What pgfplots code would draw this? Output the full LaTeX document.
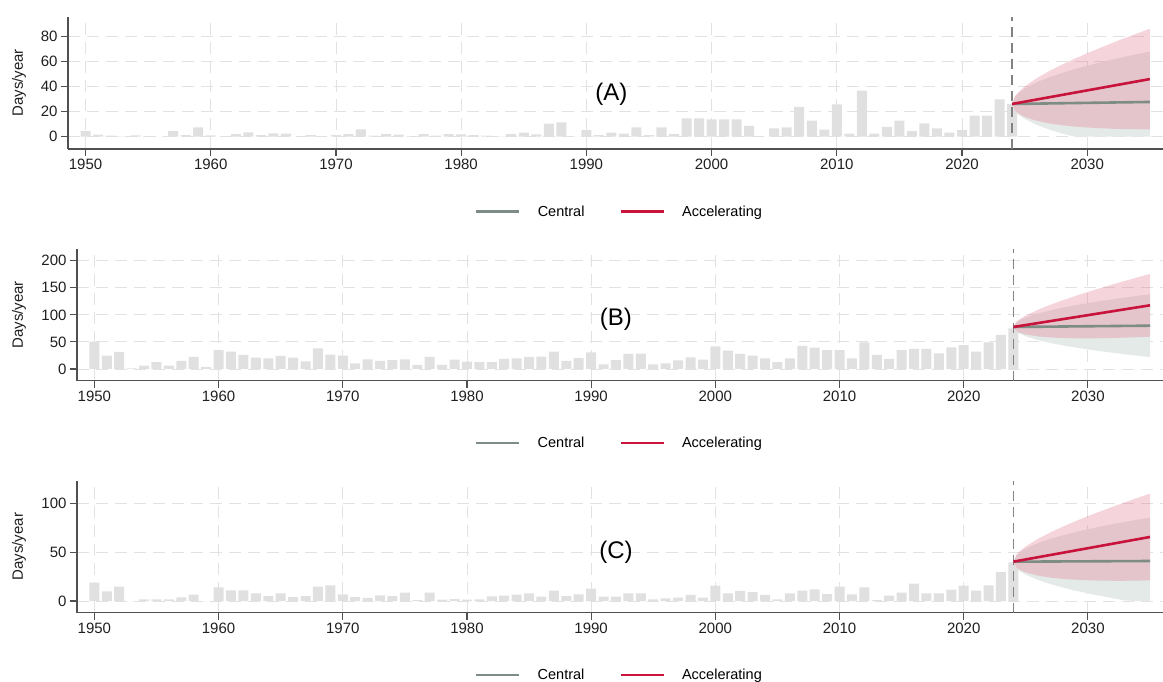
\documentclass[border=0pt]{standalone}
\usepackage{fontspec}
\setmainfont{Liberation Sans}
\usepackage{pgfplots}
\pgfplotsset{compat=1.18}
\usepackage{pgfplotstable}

\definecolor{bargray}{RGB}{224,224,224}
\definecolor{centralc}{RGB}{125,140,133}
\definecolor{accc}{RGB}{200,20,60}
\definecolor{cband}{RGB}{228,234,231}
\definecolor{aband}{RGB}{225,120,145}
\definecolor{axisgray}{RGB}{80,80,80}
\definecolor{gridc}{RGB}{226,226,226}
\definecolor{vline}{RGB}{130,130,130}

% ---------- observed bars ----------
\pgfplotstableread{
yr v
1950 4.5
1951 1.6
1952 0.8
1953 0.3
1954 1.0
1955 0.5
1956 0
1957 4.5
1958 1.3
1959 7.4
1960 1.0
1961 0
1962 2.0
1963 3.4
1964 1.3
1965 2.6
1966 2.4
1967 0
1968 1.3
1969 0
1970 1.3
1971 2.0
1972 5.8
1973 0.8
1974 2.0
1975 1.6
1976 0.5
1977 2.0
1978 0.8
1979 2.0
1980 1.9
1981 1.3
1982 0.8
1983 0.3
1984 2.0
1985 3.2
1986 1.9
1987 10.3
1988 11.4
1989 0
1990 5.3
1991 1.3
1992 3.2
1993 2.4
1994 7.4
1995 1.3
1996 7.4
1997 2.0
1998 14.6
1999 14.6
2000 13.8
2001 13.8
2002 13.8
2003 8.5
2004 0
2005 6.6
2006 7.4
2007 23.6
2008 12.7
2009 5.6
2010 25.7
2011 2.4
2012 36.6
2013 2.4
2014 7.7
2015 12.7
2016 4.5
2017 10.6
2018 6.6
2019 3.2
2020 5.3
2021 16.7
2022 16.7
2023 29.7
2024 26
}\barsA

\pgfplotstableread{
yr v
1950 50.5
1951 24.6
1952 31.4
1953 1.2
1954 6.2
1955 12.9
1956 6.2
1957 14.8
1958 22.2
1959 3.7
1960 35
1961 32
1962 25.9
1963 20.9
1964 19.7
1965 24
1966 20.9
1967 14.2
1968 38.2
1969 26.5
1970 24.6
1971 10.5
1972 17.9
1973 14.8
1974 16.6
1975 17.9
1976 7.4
1977 22.2
1978 7.4
1979 17.2
1980 13.5
1981 12.9
1982 12.9
1983 18.5
1984 19.7
1985 22.2
1986 22.8
1987 32
1988 14.8
1989 20.3
1990 30.8
1991 8.6
1992 16.6
1993 27.7
1994 28.3
1995 8.6
1996 10.5
1997 16
1998 21.5
1999 17.2
2000 41.9
2001 33.9
2002 27.7
2003 24.6
2004 19.7
2005 12.9
2006 19.7
2007 42.5
2008 39.4
2009 35
2010 35
2011 19.7
2012 49.2
2013 25.9
2014 18.5
2015 35
2016 37
2017 37
2018 28.9
2019 40
2020 44.3
2021 32
2022 49.2
2023 62.8
2024 75
}\barsB

\pgfplotstableread{
yr v
1950 18.8
1951 9.9
1952 14.7
1953 0
1954 1.7
1955 1.7
1956 1.7
1957 3.8
1958 6.5
1959 0
1960 14
1961 11
1962 11
1963 7.9
1964 5.1
1965 7.9
1966 4.1
1967 5.1
1968 14.7
1969 16.1
1970 6.9
1971 4.1
1972 3.1
1973 5.8
1974 5.1
1975 8.7
1976 1
1977 8.6
1978 1.4
1979 2
1980 1.4
1981 1.7
1982 4.8
1983 5.5
1984 6.5
1985 7.9
1986 4.5
1987 10.6
1988 5.1
1989 6.9
1990 12.7
1991 4.5
1992 4.5
1993 7.9
1994 7.9
1995 1.7
1996 2.7
1997 3.4
1998 6.2
1999 3.4
2000 15.8
2001 7.9
2002 10.3
2003 9.2
2004 6.2
2005 1.7
2006 7.9
2007 10.6
2008 12
2009 7.2
2010 14.7
2011 6.9
2012 14
2013 1
2014 5.5
2015 8.6
2016 17.8
2017 7.9
2018 7.9
2019 11.6
2020 15.8
2021 10.6
2022 16.1
2023 29.8
2024 39.7
}\barsC

\pgfplotsset{
  panel/.style={
    scale only axis,
    xmin=1948.6, xmax=2036.05,
    axis x line*=bottom, axis y line*=left,
    axis line style={axisgray, line width=1.2pt},
    xtick={1950,1960,...,2030},
    xticklabel style={/pgf/number format/1000 sep={}},
    tick style={axisgray, line width=1.1pt},
    major tick length=7pt,
    tick align=outside,
    grid=major,
    major grid style={gridc, line width=0.9pt, dash pattern=on 12pt off 7pt},
    ticklabel style={font=\fontsize{15}{18}\selectfont, text=black!88},
    /pgf/number format/assume math mode=true,
    ylabel={Days/year},
    label style={font=\fontsize{15}{18}\selectfont, text=black!88},
    legend columns=2,
    legend style={draw=none, fill=none, font=\fontsize{14.5}{17}\selectfont,
      anchor=center,
      /tikz/every even column/.append style={column sep=33pt},
      /tikz/every odd column/.append style={column sep=15pt}},
    legend image code/.code={\draw[##1, line width=2.6pt] (0pt,0pt) -- (43pt,0pt);},
  },
  barst/.style={ybar, bar width=10pt, bar shift=0pt, fill=bargray, draw=none, forget plot},
  cb/.style={fill=cband, draw=none, forget plot},
  ab/.style={fill=aband, fill opacity=0.32, draw=none, forget plot},
  cl/.style={centralc, line width=2.6pt},
  al/.style={accc, line width=2.6pt},
  dl/.style={vline, line width=1.2pt, dash pattern=on 10pt off 6pt, forget plot},
}

\begin{document}
\begin{tikzpicture}
\useasboundingbox (0,0) rectangle (1163pt,682pt);

% ---------------- Panel A ----------------
\begin{axis}[panel, at={(68pt,533pt)}, anchor=south west,
  width=1095pt, height=132.3pt,
  ymin=-9.8, ymax=95.4, ytick={0,20,...,80},
  ylabel style={at={(axis description cs:-0.04475,0.5)}, anchor=center},
  legend style={at={(axis description cs:0.5037,-0.4735)}}]
\addplot[barst] table[x=yr,y=v] {\barsA};
\addplot[cb] coordinates {(2024,26)(2024.25,32.1)(2024.5,34.6)(2025,38.2)(2026,43.4)(2027,47.3)(2028,50.7)(2029,53.7)(2030,56.4)(2031,58.9)(2032,61.3)(2033,63.5)(2034,65.6)(2035,67.6)(2035,0)(2034,0)(2033,0)(2032,0)(2031,0)(2030,0)(2029,0)(2028,2.5)(2027,5.6)(2026,9.2)(2025,14.1)(2024.5,17.5)(2024.25,20.0)};
\addplot[ab] coordinates {(2024,26)(2024.25,32.5)(2024.5,35.4)(2025,39.9)(2026,46.7)(2027,52.3)(2028,57.3)(2029,62.0)(2030,66.3)(2031,70.5)(2032,74.5)(2033,78.4)(2034,82.1)(2035,85.8)(2035,5.8)(2034,5.9)(2033,6.0)(2032,6.3)(2031,6.7)(2030,7.3)(2029,8.0)(2028,9.1)(2027,10.5)(2026,12.5)(2025,15.7)(2024.5,18.4)(2024.25,20.4)};
\addplot[dl] coordinates {(2024,-9.8) (2024,95.4)};
\addplot[cl] coordinates {(2024,26) (2035,27.6)};
\addlegendentry{Central}
\addplot[al] coordinates {(2024,26) (2035,45.8)};
\addlegendentry{Accelerating}
\node[font=\fontsize{24}{28}\selectfont] at (axis cs:1992,33.8) {(A)};
\end{axis}

% ---------------- Panel B ----------------
\begin{axis}[panel, at={(77pt,301.3pt)}, anchor=south west,
  width=1086pt, height=131.7pt,
  ymin=-21.6, ymax=221.6, ytick={0,50,...,200},
  ylabel style={at={(axis description cs:-0.0534,0.5)}, anchor=center},
  legend style={at={(axis description cs:0.4995,-0.4745)}}]
\addplot[barst] table[x=yr,y=v] {\barsB};
\addplot[cb] coordinates {(2024,77.6)(2024.25,86.4)(2024.5,90.1)(2025,95.3)(2026,102.8)(2027,108.5)(2028,113.4)(2029,117.8)(2030,121.7)(2031,125.4)(2032,128.8)(2033,132.0)(2034,135.1)(2035,138.0)(2035,22.0)(2034,24.5)(2033,27.1)(2032,29.9)(2031,32.9)(2030,36.1)(2029,39.6)(2028,43.5)(2027,48.0)(2026,53.3)(2025,60.3)(2024.5,65.3)(2024.25,68.9)};
\addplot[ab] coordinates {(2024,77.6)(2024.25,87.3)(2024.5,91.8)(2025,98.7)(2026,109.6)(2027,118.8)(2028,127.1)(2029,134.9)(2030,142.3)(2031,149.3)(2032,156.2)(2033,162.8)(2034,169.3)(2035,175.6)(2035,59.6)(2034,58.7)(2033,57.9)(2032,57.2)(2031,56.8)(2030,56.6)(2029,56.7)(2028,57.2)(2027,58.2)(2026,60.1)(2025,63.8)(2024.5,67.1)(2024.25,69.8)};
\addplot[dl] coordinates {(2024,-21.6) (2024,221.6)};
\addplot[cl] coordinates {(2024,77.6) (2035,80)};
\addlegendentry{Central}
\addplot[al] coordinates {(2024,77.6) (2035,117.6)};
\addlegendentry{Accelerating}
\node[font=\fontsize{24}{28}\selectfont] at (axis cs:1992,91.4) {(B)};
\end{axis}

% ---------------- Panel C ----------------
\begin{axis}[panel, at={(77pt,69.3pt)}, anchor=south west,
  width=1086pt, height=132pt,
  ymin=-12, ymax=123.6, ytick={0,50,100},
  ylabel style={at={(axis description cs:-0.0534,0.5)}, anchor=center},
  legend style={at={(axis description cs:0.4995,-0.4735)}}]
\addplot[barst] table[x=yr,y=v] {\barsC};
\addplot[cb] coordinates {(2024,40.4)(2024.25,47.1)(2024.5,49.9)(2025,53.9)(2026,59.6)(2027,63.9)(2028,67.5)(2029,70.8)(2030,73.7)(2031,76.4)(2032,78.9)(2033,81.3)(2034,83.6)(2035,85.7)(2035,0)(2034,0)(2033,0.6)(2032,2.9)(2031,5.3)(2030,7.8)(2029,10.6)(2028,13.8)(2027,17.3)(2026,21.5)(2025,27.0)(2024.5,30.9)(2024.25,33.7)};
\addplot[ab] coordinates {(2024,40.4)(2024.25,47.7)(2024.5,51.1)(2025,56.2)(2026,64.0)(2027,70.6)(2028,76.5)(2029,82.0)(2030,87.2)(2031,92.1)(2032,96.9)(2033,101.5)(2034,106.0)(2035,110.4)(2035,21.2)(2034,21.0)(2033,20.8)(2032,20.8)(2031,21.0)(2030,21.3)(2029,21.9)(2028,22.8)(2027,24.0)(2026,26.0)(2025,29.3)(2024.5,32.0)(2024.25,34.3)};
\addplot[dl] coordinates {(2024,-12) (2024,123.6)};
\addplot[cl] coordinates {(2024,40.4) (2035,41.1)};
\addlegendentry{Central}
\addplot[al] coordinates {(2024,40.4) (2035,65.8)};
\addlegendentry{Accelerating}
\node[font=\fontsize{24}{28}\selectfont] at (axis cs:1992,50.4) {(C)};
\end{axis}
\end{tikzpicture}
\end{document}
